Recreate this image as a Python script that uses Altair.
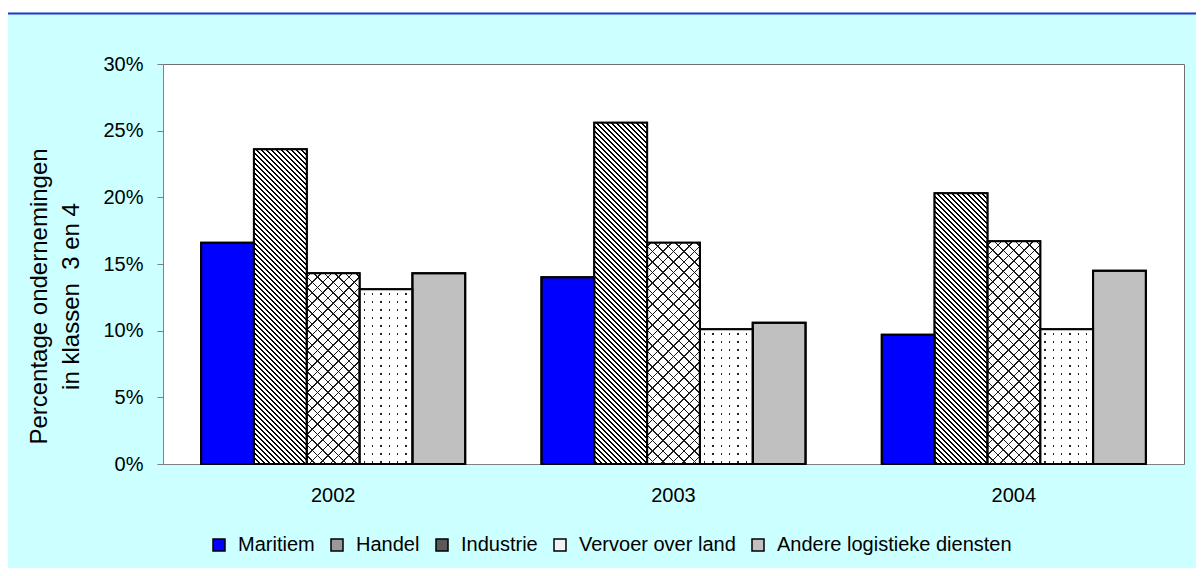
import altair as alt
import pandas as pd

# ---------------- data ----------------
years = ["2002", "2003", "2004"]
categories = ["Maritiem", "Handel", "Industrie", "Vervoer over land", "Andere logistieke diensten"]
maritiem = [16.6, 14.0, 9.7]
handel = [23.6, 25.6, 20.3]
industrie = [14.3, 16.6, 16.7]
vervoer = [13.1, 10.1, 10.1]
andere = [14.3, 10.6, 14.5]
y_ticks = [0, 0.05, 0.10, 0.15, 0.20, 0.25, 0.30]
y_title = ["Percentage ondernemingen", "in klassen\u00a0 3 en 4"]

series = dict(zip(categories, [maritiem, handel, industrie, vervoer, andere]))
rows = []
for c, vals in series.items():
    for yr, v in zip(years, vals):
        rows.append({"year": yr, "cat": c, "val": v / 100})
df = pd.DataFrame(rows)

# ---------------- layout / style ----------------
W, H = 1021, 400
P_IN, P_OUT = 0.224, 0.112
YMAX = 0.30
step = W / (len(years) - P_IN + 2 * P_OUT)
bar_w = step * (1 - P_IN) / len(categories)

FONT = "Liberation Sans"
BLUE = "#0000FF"
SILVER = "#C0C0C0"
TRANSP = "rgba(0,0,0,0)"
legend_colors = [BLUE, "#9a9a9a", "#5a5a5a", "#f2f2f2", SILVER]


def stripes(p1, p2, length, period, frac, bg, fg, phase=0.0):
    stops = [{"offset": 0, "color": bg}]
    i = 0
    while True:
        s = (i + phase) * period / length
        if s >= 1:
            break
        e = min(1.0, (i + phase + frac) * period / length)
        s, e = round(s, 5), round(e, 5)
        stops += [
            {"offset": s, "color": bg},
            {"offset": s, "color": fg},
            {"offset": e, "color": fg},
            {"offset": e, "color": bg},
        ]
        i += 1
    stops.append({"offset": 1, "color": bg})
    return {"gradient": "linear", "x1": p1[0], "y1": p1[1], "x2": p2[0], "y2": p2[1], "stops": stops}


def back_dir(w, h):  # "\" lines : y - x = const
    k = (w + h) / (w * w + h * h)
    return (1, 0), (round(1 - k * w, 6), round(k * h, 6)), w + h


def fwd_dir(w, h):  # "/" lines : x + y = const
    k = (w + h) / (w * w + h * h)
    return (0, 0), (round(k * w, 6), round(k * h, 6)), w + h


x = alt.X(
    "year:N",
    scale=alt.Scale(paddingInner=P_IN, paddingOuter=P_OUT),
    axis=alt.Axis(title=None, labelAngle=0, ticks=False, tickSize=0, labelPadding=21,
                  labelFontSize=20, domainColor="#808080"),
)
xo = alt.XOffset("cat:N", scale=alt.Scale(domain=categories, paddingInner=0, paddingOuter=0))
y = alt.Y(
    "val:Q",
    scale=alt.Scale(domain=[0, YMAX], nice=False),
    axis=alt.Axis(values=y_ticks, format=".0%", tickSize=6, labelPadding=14, labelFontSize=20,
                  title=y_title, titleFontSize=24, titleFontWeight="normal", titleX=-117,
                  titleY=232, titleBaseline="alphabetic", titleAlign="center", titleLineHeight=32),
)

base = alt.Chart(df).mark_bar(stroke="black", strokeWidth=2).encode(
    x=x, xOffset=xo, y=y,
    color=alt.Color(
        "cat:N",
        scale=alt.Scale(domain=categories, range=legend_colors),
        legend=alt.Legend(title=None, orient="none", legendX=46, legendY=471, direction="horizontal",
                          symbolType="square", symbolSize=144, symbolStrokeColor="black",
                          symbolStrokeWidth=1.5, labelFontSize=20, labelFont=FONT, labelColor="black",
                          labelOffset=9, columnPadding=12, padding=0, labelLimit=500),
    ),
)


def pattern_layer(yr, cat, grad):
    return alt.Chart(df).transform_filter(
        (alt.datum.year == yr) & (alt.datum.cat == cat)
    ).mark_bar(fill=grad, strokeWidth=0).encode(x=x, xOffset=xo, y=y)


layers = [base]
for i, yr in enumerate(years):
    # Handel: dense downward diagonal
    h = handel[i] / 100 / YMAX * H
    p1, p2, L = back_dir(bar_w, h)
    layers.append(pattern_layer(yr, "Handel", stripes(p1, p2, L, 5.0, 0.34, "white", "black")))
    # Industrie: diagonal cross-hatch
    h = industrie[i] / 100 / YMAX * H
    p1, p2, L = back_dir(bar_w, h)
    layers.append(pattern_layer(yr, "Industrie", stripes(p1, p2, L, 10.5, 0.15, "white", "#1a1a1a", 0.3)))
    p1, p2, L = fwd_dir(bar_w, h)
    layers.append(pattern_layer(yr, "Industrie", stripes(p1, p2, L, 10.5, 0.15, TRANSP, "#1a1a1a", 0.3)))
    # Vervoer over land: sparse dots
    h = vervoer[i] / 100 / YMAX * H
    layers.append(pattern_layer(yr, "Vervoer over land",
                                stripes((0, 0), (1, 0), bar_w, 8.3, 0.16, "white", "#222222", 0.5)))
    layers.append(pattern_layer(yr, "Vervoer over land",
                                stripes((0, 0), (0, 1), h, 8.0, 0.16, "white", TRANSP, 0.5)))

outline = alt.Chart(df).mark_bar(fillOpacity=0, stroke="black", strokeWidth=2).encode(x=x, xOffset=xo, y=y)
layers.append(outline)

one = pd.DataFrame({"a": [0]})
top_strip = alt.Chart(one).mark_rect(color="white").encode(
    x=alt.value(-155), x2=alt.value(1033), y=alt.value(-56), y2=alt.value(-51.5)
)
blue_line = alt.Chart(one).mark_rule(color="#2236cc", strokeWidth=2).encode(
    x=alt.value(-155), x2=alt.value(1033), y=alt.value(-50.5)
)
layers += [top_strip, blue_line]

chart = alt.layer(*layers).properties(
    width=W, height=H,
    autosize=alt.AutoSizeParams(type="none"),
    padding={"left": 155, "top": 56, "right": 12, "bottom": 104},
    background="#CCFFFF",
).configure(font=FONT).configure_view(
    fill="white", stroke="#707070", strokeWidth=1
).configure_axis(
    grid=False, labelFont=FONT, titleFont=FONT, labelColor="black", titleColor="black",
    domainColor="#808080", tickColor="#808080"
)

chart.save("out.html", embed_options={"renderer": "svg", "actions": False})
